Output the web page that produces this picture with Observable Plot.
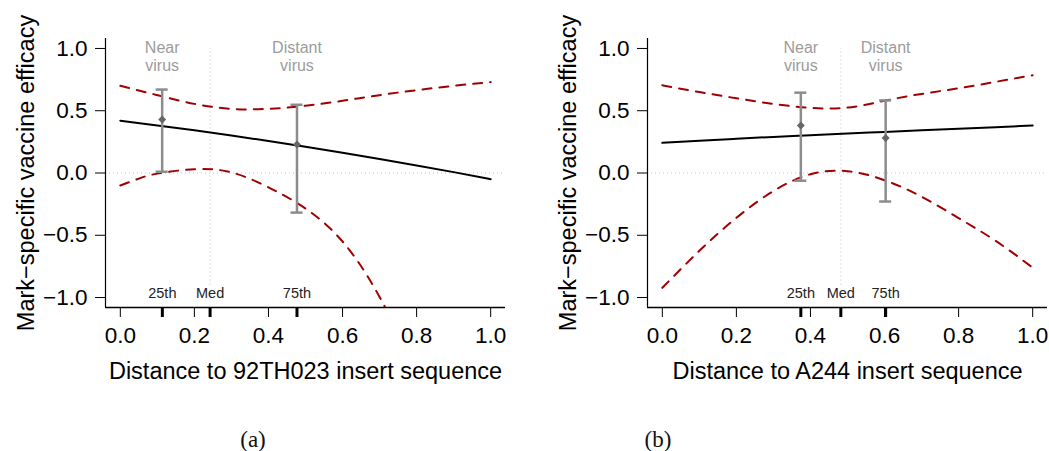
<!DOCTYPE html>
<html>
<head>
<meta charset="utf-8">
<script src="https://cdn.jsdelivr.net/npm/d3@7"></script>
<script src="https://cdn.jsdelivr.net/npm/@observablehq/plot@0.6"></script>
<style>
  html, body { margin: 0; padding: 0; background: #fff; }
  #wrap { position: relative; width: 1049px; height: 451px; overflow: hidden; background: #fff; }
  .panel { position: absolute; top: 0; }
  .cap { position: absolute; font-family: "Liberation Serif", "DejaVu Serif", serif; font-size: 23px; color: #111; transform: translate(-50%, -50%); }
</style>
</head>
<body>
<div id="wrap"></div>
<script>
// ---- axes / scales ----
const xDomain = [-0.04, 1.04];
const yDomain = [-1.08, 1.08];
const xTicks = [0, 0.2, 0.4, 0.6, 0.8, 1.0];
const yTicks = [-1, -0.5, 0, 0.5, 1];
const quantileLabels = ["25th", "Med", "75th"];
const pointLabels = ["Near\nvirus", "Distant\nvirus"];
const medLineY = [-0.9, 1.0];

// ---- panel (a): 92TH023 ----
const aTitle = "Distance to 92TH023 insert sequence";
const aGridX = [0, 0.1, 0.2, 0.3, 0.4, 0.5, 0.6, 0.7, 0.8, 0.9, 1.0];
const aEstimate = [0.420, 0.382, 0.343, 0.301, 0.257, 0.211, 0.163, 0.113, 0.061, 0.007, -0.050];
const aUpper = [0.700, 0.625, 0.555, 0.515, 0.515, 0.540, 0.580, 0.625, 0.665, 0.700, 0.730];
const aLowerX = [0, 0.05, 0.1, 0.2, 0.3, 0.4, 0.5, 0.6, 0.7, 0.8];
const aLower = [-0.100, -0.045, -0.005, 0.030, 0.005, -0.115, -0.285, -0.550, -0.995, -1.600];
const aPointX = [0.113, 0.477];
const aPointEst = [0.430, 0.228];
const aPointLo = [0.010, -0.318];
const aPointHi = [0.670, 0.548];
const aQuantiles = [0.1135, 0.2424, 0.477];

// ---- panel (b): A244 ----
const bTitle = "Distance to A244 insert sequence";
const bGridX = [0, 0.1, 0.2, 0.3, 0.4, 0.5, 0.6, 0.7, 0.8, 0.9, 1.0];
const bEstimate = [0.242, 0.259, 0.275, 0.290, 0.304, 0.318, 0.330, 0.343, 0.356, 0.368, 0.381];
const bUpper = [0.704, 0.650, 0.600, 0.555, 0.523, 0.525, 0.580, 0.635, 0.680, 0.732, 0.785];
const bLowerX = [0, 0.1, 0.2, 0.3, 0.4, 0.5, 0.6, 0.7, 0.8, 0.9, 1.0];
const bLower = [-0.922, -0.625, -0.360, -0.145, -0.010, 0.015, -0.058, -0.190, -0.362, -0.545, -0.760];
const bPointX = [0.374, 0.603];
const bPointEst = [0.381, 0.282];
const bPointLo = [-0.062, -0.229];
const bPointHi = [0.645, 0.583];
const bQuantiles = [0.374, 0.482, 0.603];

const FONT = '"Liberation Sans", Arial, Helvetica, sans-serif';
const fmt = v => (v < 0 ? "\u2212" : "") + Math.abs(v).toFixed(1);

function panel(cfg) {
  const est = cfg.gx.map((x, i) => ({x, y: cfg.est[i]}));
  const up = cfg.gx.map((x, i) => ({x, y: cfg.up[i]}));
  const lo = cfg.lx.map((x, i) => ({x, y: cfg.lo[i]}));
  const pts = cfg.px.map((x, i) => ({x, est: cfg.pe[i], lo: cfg.pl[i], hi: cfg.ph[i], label: pointLabels[i]}));
  const qs = cfg.q.map((x, i) => ({x, label: quantileLabels[i]}));
  const red = "#a00000", gray = "#8c8c8c";
  return Plot.plot({
    width: cfg.width, height: 400,
    marginLeft: 105, marginRight: cfg.marginRight, marginTop: 38, marginBottom: 93,
    style: {fontFamily: FONT, fontSize: "22px", color: "#000", background: "transparent", overflow: "visible"},
    x: {domain: xDomain},
    y: {domain: yDomain},
    marks: [
      Plot.ruleY([0], {stroke: "#c4c4c4", strokeWidth: 1, strokeDasharray: "1,3"}),
      Plot.ruleX([cfg.q[1]], {y1: medLineY[0], y2: medLineY[1], stroke: "#c4c4c4", strokeWidth: 1, strokeDasharray: "1,3"}),
      Plot.axisY({ticks: yTicks, tickSize: 10, tickPadding: 8, tickFormat: fmt, label: null, fontSize: 22.5}),
      Plot.axisX({ticks: xTicks, tickSize: 10, tickPadding: 10, tickFormat: fmt, label: null, fontSize: 22.5}),
      Plot.axisX(cfg.q, {tickSize: 10, strokeWidth: 3, tickFormat: () => "", label: null}),
      Plot.ruleX([xDomain[0]], {stroke: "#000", strokeWidth: 1.2}),
      Plot.ruleY([yDomain[0]], {stroke: "#000", strokeWidth: 1.5}),
      Plot.text(qs, {x: "x", text: "label", frameAnchor: "bottom", lineAnchor: "middle", dy: -14, fontSize: 14.5, fill: "#222"}),
      Plot.line(up, {x: "x", y: "y", stroke: red, strokeWidth: 2, strokeDasharray: "9,8", curve: "natural", clip: true}),
      Plot.line(lo, {x: "x", y: "y", stroke: red, strokeWidth: 2, strokeDasharray: "9,8", curve: "natural", clip: true}),
      Plot.line(est, {x: "x", y: "y", stroke: "#000", strokeWidth: 2, curve: "natural"}),
      Plot.ruleX(pts, {x: "x", y1: "lo", y2: "hi", stroke: gray, strokeWidth: 2.5}),
      Plot.ruleY(pts, {y: "hi", x1: "x", x2: "x", insetLeft: -6, insetRight: -6, stroke: gray, strokeWidth: 2.5}),
      Plot.ruleY(pts, {y: "lo", x1: "x", x2: "x", insetLeft: -6, insetRight: -6, stroke: gray, strokeWidth: 2.5}),
      Plot.dot(pts, {x: "x", y: "est", symbol: "diamond2", r: 3.6, fill: "#666", stroke: "none"}),
      Plot.text(pts, {x: "x", text: "label", frameAnchor: "top", lineAnchor: "top", dy: 1, fontSize: 16, lineHeight: 1.15, fill: "#9c9c9c"}),
      Plot.text([cfg.title], {frameAnchor: "bottom", textAnchor: "middle", lineAnchor: "middle", dy: 64, fontSize: 23.5, fill: "#000"}),
      Plot.text(["Mark\u2212specific vaccine efficacy"], {frameAnchor: "left", textAnchor: "middle", lineAnchor: "middle", dx: -79, rotate: -90, fontSize: 23.5, fill: "#000"})
    ]
  });
}

const wrap = document.getElementById("wrap");
const left = panel({width: 542, marginRight: 37, title: aTitle, gx: aGridX, est: aEstimate, up: aUpper, lx: aLowerX, lo: aLower,
  px: aPointX, pe: aPointEst, pl: aPointLo, ph: aPointHi, q: aQuantiles});
const right = panel({width: 507, marginRight: 2, title: bTitle, gx: bGridX, est: bEstimate, up: bUpper, lx: bLowerX, lo: bLower,
  px: bPointX, pe: bPointEst, pl: bPointLo, ph: bPointHi, q: bQuantiles});
left.classList.add("panel"); left.style.left = "0px";
right.classList.add("panel"); right.style.left = "542px";
wrap.appendChild(left); wrap.appendChild(right);

const caps = [["(a)", 253], ["(b)", 658]];
for (const [t, cx] of caps) {
  const d = document.createElement("div");
  d.className = "cap"; d.textContent = t;
  d.style.left = cx + "px"; d.style.top = "440px";
  wrap.appendChild(d);
}
</script>
</body>
</html>
